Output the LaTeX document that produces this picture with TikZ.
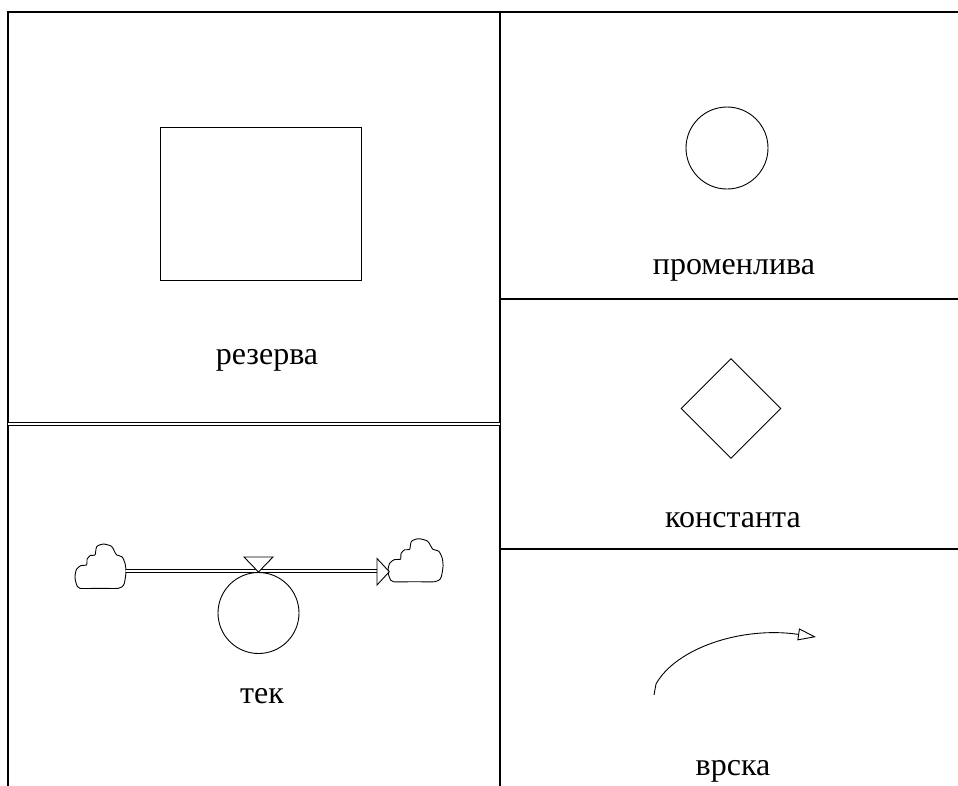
\documentclass[tikz,border=0pt]{standalone}
\usepackage{fontspec}
\setmainfont{Liberation Serif}
\usetikzlibrary{shapes.geometric,arrows.meta}
\tikzset{
  grid line/.style={line width=1.8pt, line cap=rect},
  shape line/.style={line width=0.9pt},
  label text/.style={anchor=base, inner sep=0pt, font=\fontsize{32}{38}\selectfont},
  cloud pic/.pic={
    \draw[shape line, fill=white] plot[smooth cycle, tension=0.45] coordinates {
      (0,-11.3) (1.5,-4) (5,0) (24,0) (43.3,0) (48.5,-3) (50,-8.3) (51,-17) (50,-25)
      (47,-31.5) (41.7,-33.3) (39.5,-37) (36.5,-42) (28.3,-44.3) (21.7,-41.6)
      (20,-33.3) (15.5,-33) (12,-29) (11.7,-23.3) (6,-22.8) (1.5,-19) };
  }
}
\begin{document}
\begin{tikzpicture}[x=1pt, y=-1pt]
\useasboundingbox (0,0) rectangle (958,785);
% table
\coordinate (TL) at (8,12);
\coordinate (TM) at (500,12);
\coordinate (TR) at (958,12);
\coordinate (BL) at (8,785);
\coordinate (BM) at (500,785);
\coordinate (R1a) at (500,299);
\coordinate (R1b) at (958,299);
\coordinate (R2a) at (500,549);
\coordinate (R2b) at (958,549);
\coordinate (L1a) at (8,424);
\coordinate (L1b) at (500,424);
\draw[grid line] (BL) -- (TL) -- (TR);
\draw[grid line] (TM) -- (BM);
\draw[grid line] (R1a) -- (R1b);
\draw[grid line] (R2a) -- (R2b);
\draw[double, line width=0.9pt, double distance=1.6pt] (L1a) -- (L1b);

% stock
\node[draw, shape line, minimum width=201, minimum height=153, inner sep=0pt] (stock) at (260.5,203.5) {};
\node[label text] (stocklbl) at (267,364) {резерва};

% variable
\node[draw, shape line, circle, minimum size=82, inner sep=0pt] (aux) at (727,148) {};
\node[label text] (auxlbl) at (734,274) {променлива};

% constant
\node[draw, shape line, diamond, aspect=1, minimum width=100, minimum height=100, inner sep=0pt] (const) at (731,408.5) {};
\node[label text] (constlbl) at (733,527) {константа};

% link
\coordinate (linkA) at (654,695);
\coordinate (linkB) at (816,637);
\draw[line width=0.9pt, -{Triangle[open, length=18pt, width=12pt, line width=0.9pt]}]
  (linkA) -- (656,684) .. controls (676,648) and (742,626) .. (linkB);
\node[label text] (linklbl) at (733,775) {врска};

% flow
\pic at (75,588.3) {cloud pic};
\pic[xscale=1.08, yscale=0.97] at (388,581.7) {cloud pic};
\coordinate (srcR) at (126,571);
\coordinate (pipeEnd) at (377,571);
\draw[double, line width=1pt, double distance=2.4pt] (srcR) -- (pipeEnd);
\draw[shape line, fill=white] (377,558.5) -- (389.3,571.7) -- (377,585) -- cycle;
\node[draw, shape line, circle, minimum size=81, inner sep=0pt] (flowc) at (258.5,613) {};
\draw[shape line, fill=white] (244,557) -- (273,557) -- (258.5,572) -- cycle;
\node[label text] (flowlbl) at (262,703) {тек};
\end{tikzpicture}
\end{document}
